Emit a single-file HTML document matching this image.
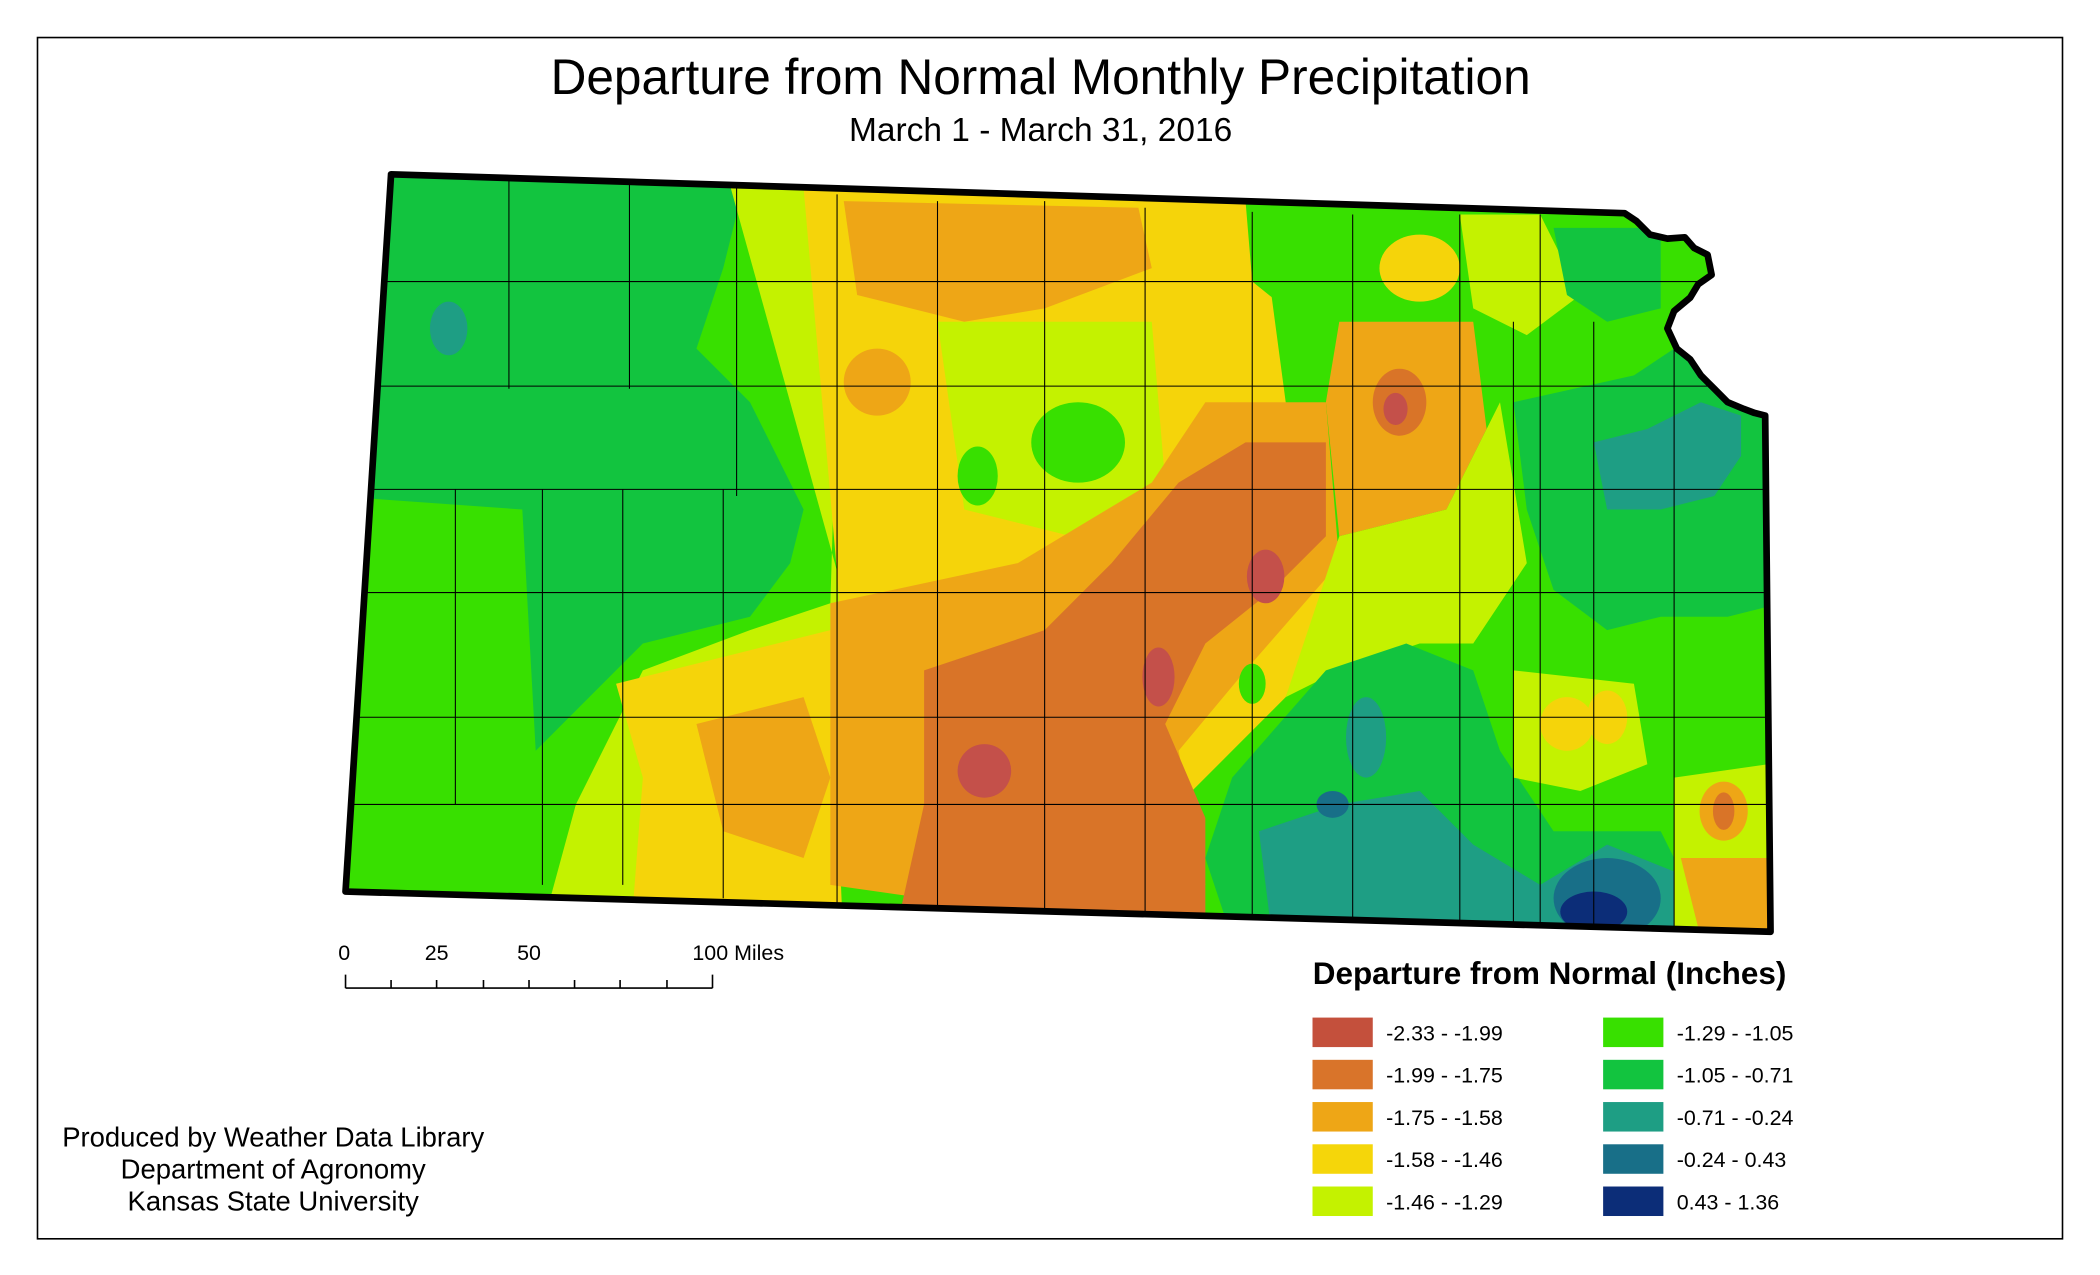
<!DOCTYPE html>
<html><head><meta charset="utf-8"><style>
html,body{margin:0;padding:0;background:#fff}
svg{display:block}
text{font-family:"Liberation Sans",Arial,sans-serif;fill:#000}
</style></head><body>
<svg id="chart" width="2100" height="1275" viewBox="0 0 1568 951" preserveAspectRatio="none" xmlns="http://www.w3.org/2000/svg">
<rect x="28" y="28" width="1512" height="896" fill="#fff" stroke="#000" stroke-width="1.2"/>
<text x="777" y="70" font-size="37" text-anchor="middle">Departure from Normal Monthly Precipitation</text>
<text x="777" y="105" font-size="25" text-anchor="middle">March 1 - March 31, 2016</text>
<defs><clipPath id="ks"><polygon id="ksp" points="292,130 1213,159 1222,165 1232,175 1245,178 1258,177 1265,185 1275,190 1278,205 1268,212 1262,222 1250,232 1245,245 1252,260 1262,268 1270,280 1280,290 1290,300 1302,305 1310,308 1318,310 1322,695 258,665"/></clipPath></defs>
<g clip-path="url(#ks)">
<rect x="250" y="120" width="1080" height="590" fill="#38e000"/>
<polygon fill="#12c43f" points="250,120 560,120 540,200 520,260 560,300 600,380 590,420 560,460 480,480 440,520 400,560 390,380 250,370"/>
<polygon fill="#c4f200" points="540,120 630,120 620,450 560,470 480,500 430,600 400,710 620,710 640,480"/>
<polygon fill="#f5d40a" points="460,510 620,470 630,710 470,710 480,580"/>
<polygon fill="#eea616" points="520,540 600,520 620,580 600,640 540,620"/>
<polygon fill="#f5d40a" points="600,140 940,150 960,300 1000,420 960,520 920,560 880,600 640,600"/>
<polygon fill="#c4f200" points="700,240 860,240 870,360 800,400 720,380"/>
<ellipse cx="805" cy="330" rx="35" ry="30" fill="#38e000"/>
<ellipse cx="730" cy="355" rx="15" ry="22" fill="#38e000"/>
<polygon fill="#eea616" points="630,150 850,155 860,200 780,230 720,240 640,220"/>
<ellipse cx="655" cy="285" rx="25" ry="25" fill="#eea616"/>
<polygon fill="#eea616" points="620,450 760,420 860,360 900,300 990,300 1000,420 930,500 880,560 900,660 760,680 620,660"/>
<polygon fill="#d97428" points="690,500 780,470 830,420 880,360 930,330 990,330 990,400 950,440 900,480 870,540 900,610 900,690 670,690 690,600"/>
<ellipse cx="735" cy="575" rx="20" ry="20" fill="#c4504a"/>
<ellipse cx="865" cy="505" rx="12" ry="22" fill="#c4504a"/>
<ellipse cx="945" cy="430" rx="14" ry="20" fill="#c4504a"/>
<polygon fill="#38e000" points="930,150 1010,155 1040,200 960,230 935,210"/>
<polygon fill="#c4f200" points="1090,160 1150,160 1180,220 1140,250 1100,230"/>
<polygon fill="#eea616" points="1000,240 1100,240 1110,320 1080,380 1000,400 990,300"/>
<ellipse cx="1060" cy="200" rx="30" ry="25" fill="#f5d40a"/>
<ellipse cx="1045" cy="300" rx="20" ry="25" fill="#d97428"/>
<ellipse cx="1042" cy="305" rx="9" ry="12" fill="#c4504a"/>
<polygon fill="#c4f200" points="1000,400 1080,380 1120,300 1140,420 1100,480 1060,480 1000,500 960,520"/>
<polygon fill="#12c43f" points="1160,170 1240,170 1240,230 1200,240 1170,220"/>
<polygon fill="#12c43f" points="1130,300 1220,280 1250,260 1330,300 1330,450 1290,460 1240,460 1200,470 1160,440 1140,380"/>
<polygon fill="#1e9e84" points="1190,330 1230,320 1270,300 1300,310 1300,340 1280,370 1240,380 1200,380"/>
<polygon fill="#12c43f" points="920,580 990,500 1050,480 1100,500 1120,560 1160,620 1240,620 1280,700 920,700 900,640"/>
<polygon fill="#1e9e84" points="940,620 1000,600 1060,590 1100,630 1150,660 1200,630 1250,650 1260,700 950,700"/>
<ellipse cx="1020" cy="550" rx="15" ry="30" fill="#1e9e84"/>
<ellipse cx="995" cy="600" rx="12" ry="10" fill="#186f88"/>
<ellipse cx="1200" cy="670" rx="40" ry="30" fill="#186f88"/>
<ellipse cx="1190" cy="680" rx="25" ry="15" fill="#0c2d78"/>
<polygon fill="#c4f200" points="1130,500 1220,510 1230,570 1180,590 1130,580"/>
<ellipse cx="1170" cy="540" rx="20" ry="20" fill="#f5d40a"/>
<ellipse cx="1200" cy="535" rx="15" ry="20" fill="#f5d40a"/>
<polygon fill="#c4f200" points="1250,580 1320,570 1330,700 1250,700"/>
<ellipse cx="1287" cy="605" rx="18" ry="22" fill="#eea616"/>
<ellipse cx="1287" cy="605" rx="8" ry="14" fill="#d97428"/>
<polygon fill="#eea616" points="1255,640 1320,640 1325,700 1270,700"/>
<ellipse cx="335" cy="245" rx="14" ry="20" fill="#1e9e84"/>
<ellipse cx="935" cy="510" rx="10" ry="15" fill="#38e000"/>
<g stroke="#000" stroke-width="0.8" fill="none">
<path d="M270,210H1330 M270,288H1330 M270,365H1330 M270,442H1330 M260,535H1330 M260,600H1330 M380,130V290 M470,135V290 M550,140V370 M625,145V700 M700,150V700 M780,150V700 M855,155V700 M935,158V700 M1010,160V700 M1090,160V700 M1150,160V700 M340,365V600 M405,365V660 M465,365V660 M540,365V670 M1130,240V700 M1190,240V700 M1250,260V700"/>
</g>
</g>
<use href="#ksp" fill="none" stroke="#000" stroke-width="5" stroke-linejoin="round"/>
<g font-size="16">
<text x="257" y="716" text-anchor="middle">0</text>
<text x="326" y="716" text-anchor="middle">25</text>
<text x="395" y="716" text-anchor="middle">50</text>
<text x="517" y="716">100 Miles</text>
<path d="M258,737H532 M258,727V737 M292,731V737 M326,731V737 M361,731V737 M395,731V737 M429,731V737 M463,731V737 M498,731V737 M532,727V737" stroke="#000" stroke-width="1.2" fill="none"/>
</g>
<g font-size="20.5" text-anchor="middle">
<text x="204" y="855">Produced by Weather Data Library</text>
<text x="204" y="879">Department of Agronomy</text>
<text x="204" y="903">Kansas State University</text>
</g>
<text x="1157" y="734" font-size="23.5" font-weight="bold" text-anchor="middle">Departure from Normal (Inches)</text>
<g id="legend"></g>
<script>
const legendLabels = ["-2.33 - -1.99","-1.99 - -1.75","-1.75 - -1.58","-1.58 - -1.46","-1.46 - -1.29","-1.29 - -1.05","-1.05 - -0.71","-0.71 - -0.24","-0.24 - 0.43","0.43 - 1.36"];
const legendColors = ["#c4503c","#d9742a","#eea616","#f5d60a","#c4f200","#38e000","#12c43f","#1e9e84","#186f88","#0c2d78"];
const NS = "http://www.w3.org/2000/svg";
const lg = document.getElementById("legend");
legendLabels.forEach((lab, i) => {
  const col = Math.floor(i / 5), row = i % 5;
  const x = col ? 1197 : 980, y = 759 + row * 31.5;
  const r = document.createElementNS(NS, "rect");
  r.setAttribute("x", x); r.setAttribute("y", y); r.setAttribute("width", 45); r.setAttribute("height", 22);
  r.setAttribute("fill", legendColors[i]);
  
  
  lg.appendChild(r);
  const t = document.createElementNS(NS, "text");
  t.setAttribute("x", x + 55); t.setAttribute("y", y + 17); t.setAttribute("font-size", "16");
  t.textContent = lab;
  
  
  lg.appendChild(t);
});
</script>
</svg>
</body></html>
